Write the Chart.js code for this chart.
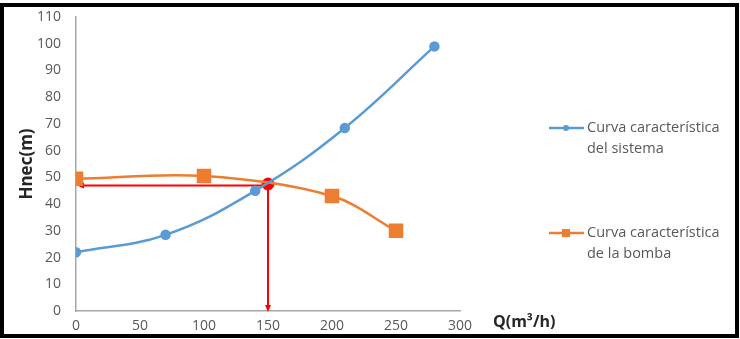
<!DOCTYPE html>
<html>
<head>
<meta charset="utf-8">
<script src="https://cdn.jsdelivr.net/npm/chart.js@4"></script>
<style>
  html, body { margin: 0; padding: 0; background: #fff; }
  #wrap { width: 740px; height: 339px; position: relative; }
</style>
</head>
<body>
<div id="wrap"><canvas id="myChart" width="740" height="339"></canvas></div>
<script>
// data
const sistemaQ = [0, 70, 140, 210, 280];
const sistemaH = [22, 28.5, 45, 68.5, 99];
const bombaQ = [0, 100, 200, 250];
const bombaH = [49.5, 50.5, 43, 30];
const puntoQ = 150;      // operating point
const puntoH = 47.5;
const lineaH = 47;       // red guide lines
const xTicks = [0, 50, 100, 150, 200, 250, 300];
const yTicks = [0, 10, 20, 30, 40, 50, 60, 70, 80, 90, 100, 110];
const legendLabels = [['Curva característica', 'del sistema'], ['Curva característica', 'de la bomba']];

const blue = '#5B9BD5';
const orange = '#ED7D31';
const red = '#FF0000';
const textColor = '#595959';
const fontFam = "'Open Sans', sans-serif";

const toPts = (xs, ys) => xs.map((x, i) => ({ x: x, y: ys[i] }));

// setup
const data = {
  datasets: [{
    label: legendLabels[0].join(' '),
    data: toPts(sistemaQ, sistemaH),
    borderColor: blue,
    backgroundColor: blue,
    borderWidth: 2.5,
    pointStyle: 'circle',
    pointRadius: 4,
    tension: 0.4,
    showLine: true
  }, {
    label: legendLabels[1].join(' '),
    data: toPts(bombaQ, bombaH),
    borderColor: orange,
    backgroundColor: orange,
    borderWidth: 2.5,
    pointStyle: 'rect',
    pointRadius: 8.5,
    tension: 0.35,
    showLine: true
  }, {
    label: 'punto',
    data: [{ x: puntoQ, y: puntoH }],
    borderColor: red,
    backgroundColor: red,
    pointRadius: 6,
    showLine: false
  }]
};

function arrowHead(ctx, x, y, dir) {
  ctx.beginPath();
  if (dir === 'left') {
    ctx.moveTo(x, y);
    ctx.lineTo(x + 7, y - 3);
    ctx.lineTo(x + 7, y + 3);
  } else {
    ctx.moveTo(x, y);
    ctx.lineTo(x - 3, y - 7);
    ctx.lineTo(x + 3, y - 7);
  }
  ctx.closePath();
  ctx.fill();
}

// red guide lines + arrows, drawn under the points
const guides = {
  id: 'guides',
  beforeDatasetsDraw(chart) {
    const { ctx, scales: { x, y } } = chart;
    const px = x.getPixelForValue(puntoQ);
    const py = y.getPixelForValue(lineaH);
    const x0 = x.getPixelForValue(0);
    const y0 = y.getPixelForValue(0);
    ctx.save();
    ctx.strokeStyle = red;
    ctx.fillStyle = red;
    ctx.lineWidth = 2;
    ctx.beginPath();
    ctx.moveTo(px, py);
    ctx.lineTo(x0 + 4, py);
    ctx.moveTo(px, y.getPixelForValue(puntoH));
    ctx.lineTo(px, y0 - 4);
    ctx.stroke();
    arrowHead(ctx, x0 + 1, py, 'left');
    arrowHead(ctx, px, y0 + 1, 'down');
    ctx.restore();
  }
};

// frame, x title, legend
const extras = {
  id: 'extras',
  afterDraw(chart) {
    const { ctx } = chart;
    ctx.save();
    ctx.strokeStyle = '#000';
    ctx.lineWidth = 4;
    ctx.strokeRect(2, 5, 735, 331);

    ctx.fillStyle = '#262626';
    ctx.font = 'bold 16px ' + fontFam;
    ctx.textBaseline = 'middle';
    ctx.textAlign = 'left';
    ctx.fillText('Q(m³/h)', 493, 322);

    const items = [
      { color: blue, style: 'circle', y: 128, text: legendLabels[0] },
      { color: orange, style: 'rect', y: 233, text: legendLabels[1] }
    ];
    ctx.font = '14.5px ' + fontFam;
    items.forEach(it => {
      ctx.strokeStyle = it.color;
      ctx.fillStyle = it.color;
      ctx.lineWidth = 2.5;
      ctx.beginPath();
      ctx.moveTo(549, it.y);
      ctx.lineTo(584, it.y);
      ctx.stroke();
      if (it.style === 'circle') {
        ctx.beginPath();
        ctx.arc(566, it.y, 3, 0, Math.PI * 2);
        ctx.fill();
      } else {
        ctx.fillRect(562, it.y - 4, 8, 8);
      }
      ctx.fillStyle = textColor;
      ctx.fillText(it.text[0], 587, it.y);
      ctx.fillText(it.text[1], 587, it.y + 21);
    });
    ctx.restore();
  }
};

// config
const config = {
  type: 'scatter',
  data,
  options: {
    responsive: false,
    animation: false,
    layout: { padding: { left: 0, right: 280, top: 17, bottom: 0 } },
    plugins: {
      legend: { display: false },
      tooltip: { enabled: false }
    },
    scales: {
      x: {
        type: 'linear',
        min: 0,
        max: 300,
        afterBuildTicks(s) { s.ticks = xTicks.map(v => ({ value: v })); },
        afterFit(s) { s.height = 28; s.paddingLeft = 0; s.paddingRight = 0; },
        grid: { display: false, drawTicks: false },
        border: { display: true, color: '#A6A6A6', width: 1.5 },
        ticks: { color: textColor, padding: 7, font: { family: fontFam, size: 14 } }
      },
      y: {
        min: 0,
        max: 110,
        afterBuildTicks(s) { s.ticks = yTicks.map(v => ({ value: v })); },
        afterFit(s) { s.width = 76; s.paddingTop = 0; s.paddingBottom = 0; },
        grid: { display: false, drawTicks: false },
        border: { display: true, color: '#A6A6A6', width: 1.5 },
        title: {
          display: true,
          text: 'Hnec(m)',
          color: '#262626',
          padding: { top: 17, bottom: 0 },
          font: { family: fontFam, size: 17, weight: 'bold' }
        },
        ticks: { color: textColor, padding: 15, font: { family: fontFam, size: 14 } }
      }
    }
  },
  plugins: [guides, extras]
};

const myChart = new Chart(document.getElementById('myChart'), config);
</script>
</body>
</html>
